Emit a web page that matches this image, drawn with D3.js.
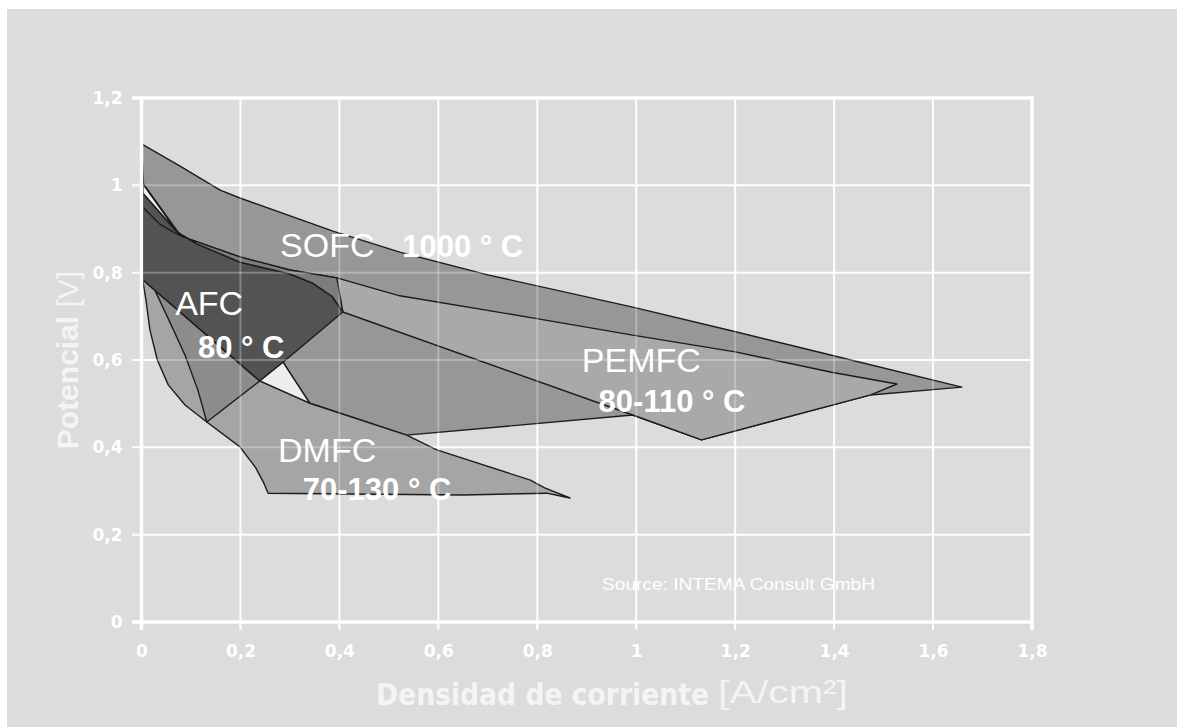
<!DOCTYPE html>
<html>
<head>
<meta charset="utf-8">
<script src="https://cdn.jsdelivr.net/npm/d3@7"></script>
<style>
  html, body { margin: 0; padding: 0; background: #ffffff; }
  svg { display: block; }
</style>
</head>
<body>
<svg id="chart" width="1177" height="727"></svg>
<script>
// ---------------- data ----------------
const xTicks = [0, 0.2, 0.4, 0.6, 0.8, 1, 1.2, 1.4, 1.6, 1.8];
const yTicks = [0, 0.2, 0.4, 0.6, 0.8, 1, 1.2];

// Operating regions: [current density A/cm², potential V]
const sofcRegion = [[0,1.095],[0.078,1.044],[0.159,0.989],[0.199,0.971],[0.387,0.895],[0.522,0.847],[0.700,0.795],[0.993,0.721],[1.203,0.664],[1.395,0.611],[1.658,0.538],[1.474,0.520],[1.132,0.417],[0.993,0.474],[0.536,0.428],[0.340,0.501],[0.286,0.595],[0.219,0.737],[0.074,0.893],[0.004,1.003]];
const pemfcRegion = [[0.003,0.950],[0.037,0.911],[0.072,0.888],[0.084,0.882],[0.199,0.836],[0.300,0.806],[0.395,0.788],[0.522,0.747],[0.793,0.696],[0.993,0.657],[1.203,0.618],[1.395,0.572],[1.527,0.545],[1.474,0.520],[1.132,0.417],[0.993,0.474],[0.407,0.710],[0.385,0.746],[0.346,0.776],[0.300,0.797],[0.199,0.824],[0.112,0.866],[0.040,0.895],[0.003,0.925]];
const dmfcRegion = [[0.003,0.779],[0.009,0.737],[0.017,0.669],[0.032,0.600],[0.054,0.543],[0.088,0.497],[0.132,0.458],[0.199,0.401],[0.231,0.353],[0.246,0.321],[0.256,0.295],[0.650,0.291],[0.819,0.295],[0.866,0.284],[0.815,0.307],[0.786,0.325],[0.597,0.394],[0.536,0.428],[0.340,0.501],[0.239,0.552],[0.003,0.783]];
const dmfcInner = [[0.027,0.760],[0.058,0.685],[0.088,0.611],[0.114,0.531],[0.132,0.458],[0.239,0.552]];
const afcRegion = [[0.003,0.982],[0.072,0.893],[0.112,0.866],[0.199,0.824],[0.300,0.797],[0.346,0.776],[0.385,0.746],[0.407,0.710],[0.286,0.595],[0.239,0.552],[0.003,0.783]];
const afcBand = [[0.072,0.893],[0.084,0.882],[0.199,0.836],[0.300,0.806],[0.395,0.788],[0.407,0.710],[0.385,0.746],[0.346,0.776],[0.300,0.797],[0.199,0.824],[0.112,0.866]];
const pemfcTopLeft = [[0.003,0.950],[0.037,0.911],[0.072,0.888],[0.084,0.882]];
const gapSliver = [[0.003,1.003],[0.072,0.893],[0.003,0.982]];
const gapTriangle = [[0.239,0.552],[0.286,0.595],[0.340,0.501]];

const regionNames = ["SOFC", "1000 ° C", "AFC", "80 ° C", "PEMFC", "80-110 ° C", "DMFC", "70-130 ° C"];
const regionLabelAt = [[0.280,0.836],[0.527,0.836],[0.068,0.703],[0.114,0.605],[0.890,0.572],[0.924,0.481],[0.276,0.366],[0.326,0.279]];

const xTitle = "Densidad de corriente";
const xUnit = "[A/cm²]";
const yTitle = "Potencial";
const yUnit = "[V]";
const sourceText = "Source: INTEMA Consult GmbH";

// ---------------- drawing ----------------
const svg = d3.select("#chart");
const W = 1177, H = 727;
svg.append("rect").attr("width", W).attr("height", H).attr("fill", "#ffffff");
svg.append("rect").attr("x", 7).attr("y", 9).attr("width", W - 7).attr("height", H - 9).attr("fill", "#dcdcdc");

const x = d3.scaleLinear().domain([0, 1.8]).range([141.5, 1032]);
const y = d3.scaleLinear().domain([0, 1.2]).range([622, 98]);
const loc = d3.formatLocale({decimal: ",", thousands: ".", grouping: [3], currency: ["", "€"]});
const fmt = loc.format("~g");

function grid(g, opacity) {
  g.selectAll("line.vx").data(xTicks).join("line").attr("class", "vx")
    .attr("x1", d => x(d)).attr("x2", d => x(d)).attr("y1", y(1.2)).attr("y2", 630)
    .attr("stroke", "#ffffff").attr("stroke-width", 2).attr("stroke-opacity", opacity);
  g.selectAll("line.hy").data(yTicks).join("line").attr("class", "hy")
    .attr("x1", 132).attr("x2", x(1.8)).attr("y1", d => y(d)).attr("y2", d => y(d))
    .attr("stroke", "#ffffff").attr("stroke-width", 2).attr("stroke-opacity", opacity);
}
grid(svg.append("g"), 0.9);

const line = d3.line().x(d => x(d[0])).y(d => y(d[1]));
const poly = pts => line(pts) + "Z";
const strokeCol = "#1c1c1c";

const shapes = [
  {pts: sofcRegion, fill: "#979797"},
  {pts: pemfcRegion, fill: "#a9a9a9"},
  {pts: dmfcRegion, fill: "#a5a5a5"},
  {pts: dmfcInner, fill: "#8c8c8c"},
  {pts: afcRegion, fill: "#535353"},
  {pts: afcBand, fill: "#7d7d7d"},
  {pts: gapSliver, fill: "#f2f2f2"},
  {pts: gapTriangle, fill: "#eeeeee"}
];
const pg = svg.append("g");
shapes.forEach(s => {
  pg.append("path").attr("d", poly(s.pts)).attr("fill", s.fill)
    .attr("stroke", strokeCol).attr("stroke-width", 1.4).attr("stroke-linejoin", "round");
});
pg.append("path").attr("d", line(pemfcTopLeft)).attr("fill", "none")
  .attr("stroke", strokeCol).attr("stroke-width", 1.4);

// faint grid over the regions
grid(svg.append("g"), 0.28);

// frame
const frame = svg.append("g").attr("stroke", "#ffffff").attr("stroke-width", 3.5);
frame.append("line").attr("x1", x(0)).attr("x2", x(0)).attr("y1", y(1.2) - 1.5).attr("y2", 630);
frame.append("line").attr("x1", x(1.8)).attr("x2", x(1.8)).attr("y1", y(1.2) - 1.5).attr("y2", 630);
frame.append("line").attr("x1", 132).attr("x2", x(1.8) + 1.5).attr("y1", y(0)).attr("y2", y(0));
frame.append("line").attr("x1", 132).attr("x2", x(1.8) + 1.5).attr("y1", y(1.2)).attr("y2", y(1.2));

// axes (labels only)
const tickFont = "'DejaVu Sans', Verdana, sans-serif";
const xa = svg.append("g").attr("transform", `translate(0,${y(0)})`)
  .call(d3.axisBottom(x).tickValues(xTicks).tickFormat(fmt).tickSize(0).tickPadding(23));
const ya = svg.append("g").attr("transform", `translate(${x(0)},0)`)
  .call(d3.axisLeft(y).tickValues(yTicks).tickFormat(fmt).tickSize(0).tickPadding(19));
[xa, ya].forEach(a => {
  a.select(".domain").remove();
  a.selectAll("text").attr("fill", "#ffffff").style("font-family", tickFont)
    .style("font-weight", "bold").style("font-size", "17px");
});

// region labels
const lg = svg.append("g").attr("fill", "#ffffff");
regionNames.forEach((t, i) => {
  const bold = /\d/.test(t);
  lg.append("text").attr("x", x(regionLabelAt[i][0])).attr("y", y(regionLabelAt[i][1]))
    .style("font-family", "'Liberation Sans', Arial, sans-serif")
    .style("font-weight", bold ? "bold" : "normal")
    .style("font-size", bold ? "31px" : "34px")
    .text(t);
});

// source
svg.append("text").attr("x", 602).attr("y", 590).attr("fill", "#ffffff")
  .attr("textLength", 273).attr("lengthAdjust", "spacingAndGlyphs")
  .style("font-family", "'Liberation Sans', Arial, sans-serif").style("font-size", "17px")
  .text(sourceText);

// axis titles
svg.append("text").attr("x", 376).attr("y", 705).attr("fill", "#f4f4f4")
  .attr("textLength", 333).attr("lengthAdjust", "spacingAndGlyphs")
  .style("font-family", "'DejaVu Sans Condensed', 'DejaVu Sans', sans-serif")
  .style("font-weight", "bold").style("font-size", "30px")
  .text(xTitle);
svg.append("text").attr("x", 718).attr("y", 703).attr("fill", "#f4f4f4")
  .attr("textLength", 130).attr("lengthAdjust", "spacingAndGlyphs")
  .style("font-family", "'Liberation Sans', Arial, sans-serif")
  .style("font-size", "32px")
  .text(xUnit);

const yt = svg.append("text").attr("transform", "translate(78,360) rotate(-90)")
  .attr("text-anchor", "middle").attr("fill", "#f4f4f4")
  .style("font-family", "'Liberation Sans', Arial, sans-serif").style("font-size", "30px");
yt.append("tspan").style("font-weight", "bold").text(yTitle + " ");
yt.append("tspan").style("font-weight", "normal").text(yUnit);
</script>
</body>
</html>
